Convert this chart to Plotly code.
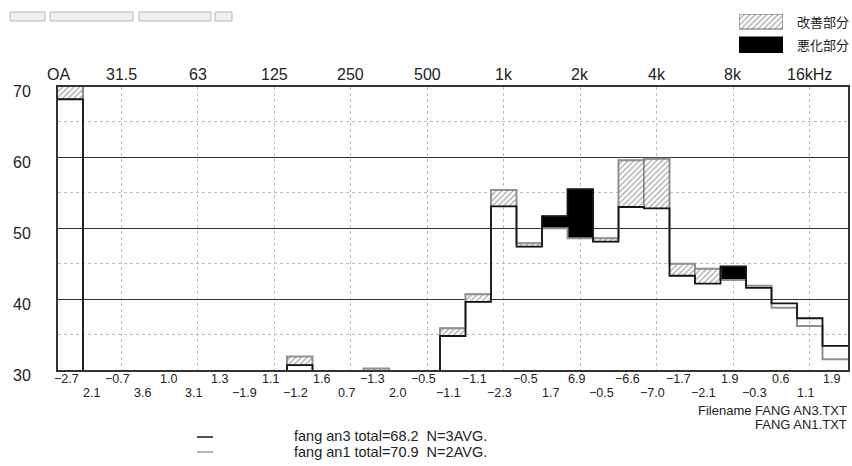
import plotly.graph_objects as go

W, H = 852, 466


def px(x):
    return x / W


def py(y):
    return 1 - y / H


# ---------------- data ----------------
bands = ["OA", "25", "31.5", "40", "50", "63", "80", "100", "125", "160", "200",
         "250", "315", "400", "500", "630", "800", "1k", "1.25k", "1.6k", "2k",
         "2.5k", "3.15k", "4k", "5k", "6.3k", "8k", "10k", "12.5k", "16k", "20k"]

# fang an3 (current, black) levels in dB
level_an3 = [68.2, 18.0, 20.0, 22.5, 24.0, 25.0, 26.0, 25.5, 28.0, 30.7, 28.5,
             28.0, 28.9, 28.5, 29.0, 34.8, 39.6, 53.1, 47.4, 51.7, 55.5,
             48.1, 53.0, 52.8, 43.3, 42.2, 44.6, 41.6, 39.4, 37.3, 33.4]
# fang an1 (previous, gray) levels in dB
level_an1 = [70.9, 15.9, 20.7, 18.9, 23.0, 21.9, 24.7, 27.4, 26.9, 31.9, 26.9,
             27.3, 30.2, 26.5, 29.5, 35.9, 40.7, 55.4, 47.9, 50.0, 48.6,
             48.6, 59.6, 59.8, 45.0, 44.3, 42.7, 41.9, 38.8, 36.2, 31.5]
# printed differences (an3 - an1)
diff_labels = [-2.7, 2.1, -0.7, 3.6, 1.0, 3.1, 1.3, -1.9, 1.1, -1.2, 1.6,
               0.7, -1.3, 2.0, -0.5, -1.1, -1.1, -2.3, -0.5, 1.7, 6.9,
               -0.5, -6.6, -7.0, -1.7, -2.1, 1.9, -0.3, 0.6, 1.1, 1.9]

top_label_bands = ["OA", "31.5", "63", "125", "250", "500", "1k", "2k", "4k", "8k", "16k"]
top_label_text = ["OA", "31.5", "63", "125", "250", "500", "1k", "2k", "4k", "8k", "16kHz"]
y_ticks = [30, 40, 50, 60, 70]
y_minor = [35, 45, 55, 65]
fill_last_band = "8k"

series_info = [
    ("fang an3", 68.2, 3),
    ("fang an1", 70.9, 2),
]
file_names = ["FANG AN3.TXT", "FANG AN1.TXT"]
legend_marks = ["改善部分", "悪化部分"]

# ---------------- derived ----------------
n = len(bands)
idx = list(range(n))
fill_limit = bands.index(fill_last_band)
edges = [i - 0.5 for i in range(n + 1)]
grid_x = [bands.index(b) for b in top_label_bands[1:]]

better = [i for i in idx if i <= fill_limit and level_an3[i] < level_an1[i]]
worse = [i for i in idx if i <= fill_limit and level_an3[i] > level_an1[i]]

NARROW = "Liberation Sans Narrow, Arial Narrow, Liberation Sans, Arial, sans-serif"
SANS = "Liberation Sans, Arial, sans-serif"
CJK = "Noto Sans CJK JP, Noto Sans CJK SC, sans-serif"

HATCH = dict(shape="/", fgcolor="#4a4a4a", bgcolor="white", size=4, solidity=0.3)

fig = go.Figure()

fig.add_trace(go.Bar(
    x=better,
    base=[min(level_an3[i], level_an1[i]) for i in better],
    y=[abs(level_an1[i] - level_an3[i]) for i in better],
    width=1,
    marker=dict(color="white", pattern=HATCH, line=dict(color="#666", width=1)),
    hoverinfo="skip",
))
fig.add_trace(go.Bar(
    x=worse,
    base=[min(level_an3[i], level_an1[i]) for i in worse],
    y=[abs(level_an1[i] - level_an3[i]) for i in worse],
    width=1,
    marker=dict(color="black", line=dict(color="black", width=1)),
    hoverinfo="skip",
))
fig.add_trace(go.Scatter(
    x=edges, y=level_an1 + [level_an1[-1]], mode="lines",
    line=dict(color="#909090", width=2, shape="hv"), hoverinfo="skip",
))
fig.add_trace(go.Scatter(
    x=edges, y=level_an3 + [level_an3[-1]], mode="lines",
    line=dict(color="#151515", width=1.8, shape="hv"), hoverinfo="skip",
))

# legend swatches (top right) on their own little axis
fig.add_trace(go.Bar(
    x=[0.5], base=[24], y=[15], width=1, xaxis="x2", yaxis="y2",
    marker=dict(color="white", pattern=HATCH, line=dict(color="#666", width=1)),
    hoverinfo="skip",
))
fig.add_trace(go.Bar(
    x=[0.5], base=[0], y=[16], width=1, xaxis="x2", yaxis="y2",
    marker=dict(color="black", line=dict(color="black", width=1)),
    hoverinfo="skip",
))

annotations = []
# y tick labels
for v in y_ticks:
    annotations.append(dict(x=px(22), xref="paper", y=v, yref="y", yshift=-5, text=str(v),
                            showarrow=False, xanchor="center", yanchor="middle",
                            font=dict(family=SANS, size=16, color="#222")))
# top band labels
for b, t in zip(top_label_bands, top_label_text):
    xi = bands.index(b)
    annotations.append(dict(x=xi - 0.45 if b == "OA" else xi, xref="x", y=py(74.5), yref="paper",
                            text=t, showarrow=False, xanchor="center", yanchor="middle",
                            font=dict(family=SANS, size=16, color="#222")))
# difference labels, alternating rows
for i, d in enumerate(diff_labels):
    annotations.append(dict(x=i, xref="x", xshift=-4, y=py(379 if i % 2 == 0 else 393), yref="paper",
                            text=f"{d:.1f}".replace("-", "−"), showarrow=False,
                            xanchor="center", yanchor="middle",
                            font=dict(family=NARROW, size=12.5, color="#222")))
# file names
annotations.append(dict(x=px(849), xref="paper", y=py(410), yref="paper",
                        text="Filename " + file_names[0], showarrow=False,
                        xanchor="right", yanchor="middle",
                        font=dict(family=NARROW, size=13, color="#222")))
annotations.append(dict(x=px(849), xref="paper", y=py(424), yref="paper",
                        text=file_names[1], showarrow=False,
                        xanchor="right", yanchor="middle",
                        font=dict(family=NARROW, size=13, color="#222")))
# series legend text
for k, (name, total, navg) in enumerate(series_info):
    annotations.append(dict(x=px(292), xref="paper", y=py(436 + 16 * k), yref="paper",
                            text=f"{name} total={total:.1f}  N={navg}AVG.", showarrow=False,
                            xanchor="left", yanchor="middle",
                            font=dict(family=NARROW, size=14.5, color="#222")))
# mark legend text
for k, t in enumerate(legend_marks):
    annotations.append(dict(x=px(795), xref="paper", y=py(21.5 + 23.5 * k), yref="paper",
                            text=t, showarrow=False, xanchor="left", yanchor="middle",
                            font=dict(family=CJK, size=13, color="#222")))

shapes = []
# UI buttons at top-left
for x0, x1 in [(10, 45), (50, 133), (139, 211), (215, 232)]:
    shapes.append(dict(type="rect", xref="paper", yref="paper",
                       x0=px(x0), x1=px(x1), y0=py(21), y1=py(12),
                       fillcolor="#efefef", line=dict(color="#b5b5b5", width=1)))
# series legend lines
for k, col in enumerate(["#1a1a1a", "#9a9a9a"]):
    shapes.append(dict(type="line", xref="paper", yref="paper",
                       x0=px(197), x1=px(213), y0=py(437 + 15 * k), y1=py(437 + 15 * k),
                       line=dict(color=col, width=1.5)))

fig.update_layout(
    width=W, height=H,
    margin=dict(l=0, r=0, t=0, b=0),
    paper_bgcolor="white", plot_bgcolor="white",
    showlegend=False, barmode="overlay", bargap=0,
    xaxis=dict(domain=[px(57.5), px(848)], range=[-0.5, n - 0.5],
               tickvals=grid_x, showticklabels=False, ticks="",
               showgrid=True, gridcolor="#bdbdbd", griddash="dot", gridwidth=1,
               zeroline=False, showline=True, mirror=True, linecolor="#333", linewidth=1.5),
    yaxis=dict(domain=[py(370), py(86.5)], range=[30, 70],
               tickvals=y_ticks, showticklabels=False, ticks="",
               showgrid=True, gridcolor="#333", gridwidth=1,
               minor=dict(tickvals=y_minor, showgrid=True, gridcolor="#bdbdbd",
                          griddash="dot", gridwidth=1),
               zeroline=False, showline=True, mirror=True, linecolor="#333", linewidth=1.5),
    xaxis2=dict(domain=[px(739), px(783)], range=[0, 1], visible=False, anchor="y2"),
    yaxis2=dict(domain=[py(53), py(14)], range=[0, 39], visible=False, anchor="x2"),
    annotations=annotations,
    shapes=shapes,
)

fig.write_html(
    "out.html",
    config={"displayModeBar": False, "staticPlot": True},
    post_script="document.body.style.margin='0';document.body.style.overflow='hidden';",
)
